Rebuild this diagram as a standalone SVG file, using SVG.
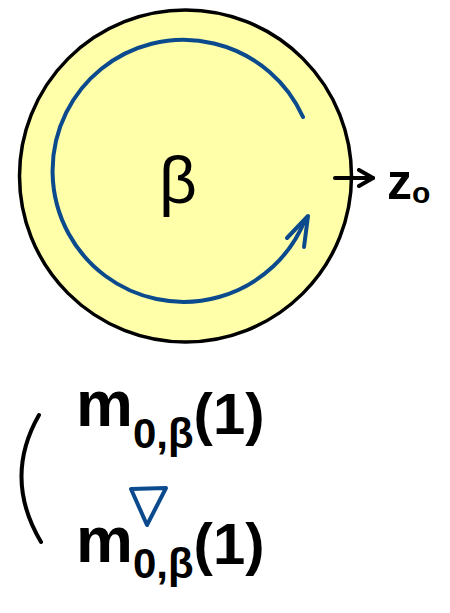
<svg xmlns="http://www.w3.org/2000/svg" width="450" height="613" viewBox="0 0 450 613">
<style>
.ink{fill:none;stroke:#000;stroke-width:4;stroke-linecap:round;stroke-linejoin:round}
.blue{fill:none;stroke:#0c4a8e;stroke-width:4;stroke-linecap:round;stroke-linejoin:round}
.t{font-family:"Liberation Sans",Arial,sans-serif;fill:#000}
</style>
<defs>
<marker id="ah" viewBox="0 0 10 10" refX="8" refY="5" markerWidth="5" markerHeight="5" orient="auto" markerUnits="strokeWidth">
<path d="M1,1 L8,5 L1,9" fill="none" stroke="#000" stroke-width="2" stroke-linecap="round" stroke-linejoin="round"/>
</marker>
</defs>
<g id="disk">
<circle cx="185.5" cy="176" r="166" fill="#ffffaa" stroke="#000" stroke-width="3.5"/>
</g>
<g id="loop">
<path class="blue" d="M303,117 A131,131 0 1 0 305,220"/>
<path class="blue" d="M287,238 L308,216 L304,247" stroke-width="5"/>
</g>
<g id="beta-label">
<text class="t" x="178" y="203" font-size="66" text-anchor="middle">β</text>
</g>
<g id="connectors">
<line class="ink" x1="335" y1="178" x2="373" y2="178" marker-end="url(#ah)"/>
</g>
<g id="z0">
<text class="t" x="387" y="199" font-size="50" font-weight="bold">z<tspan font-size="30" dy="4">o</tspan></text>
</g>
<g id="bracket">
<path class="ink" d="M39,415 Q3,478 41,542"/>
</g>
<g id="formula-top">
<text class="t" x="76" y="426" font-size="64" font-weight="bold">m<tspan font-size="42" dy="22">0,β</tspan><tspan font-size="58" dy="-14">(1)</tspan></text>
</g>
<g id="triangle">
<path class="blue" d="M131,489 L166,488 L147,525 Z" stroke-width="5"/>
</g>
<g id="formula-bottom">
<text class="t" x="76" y="562" font-size="64" font-weight="bold">m<tspan font-size="42" dy="16">0,β</tspan><tspan font-size="58" dy="-14">(1)</tspan></text>
</g>
</svg>
